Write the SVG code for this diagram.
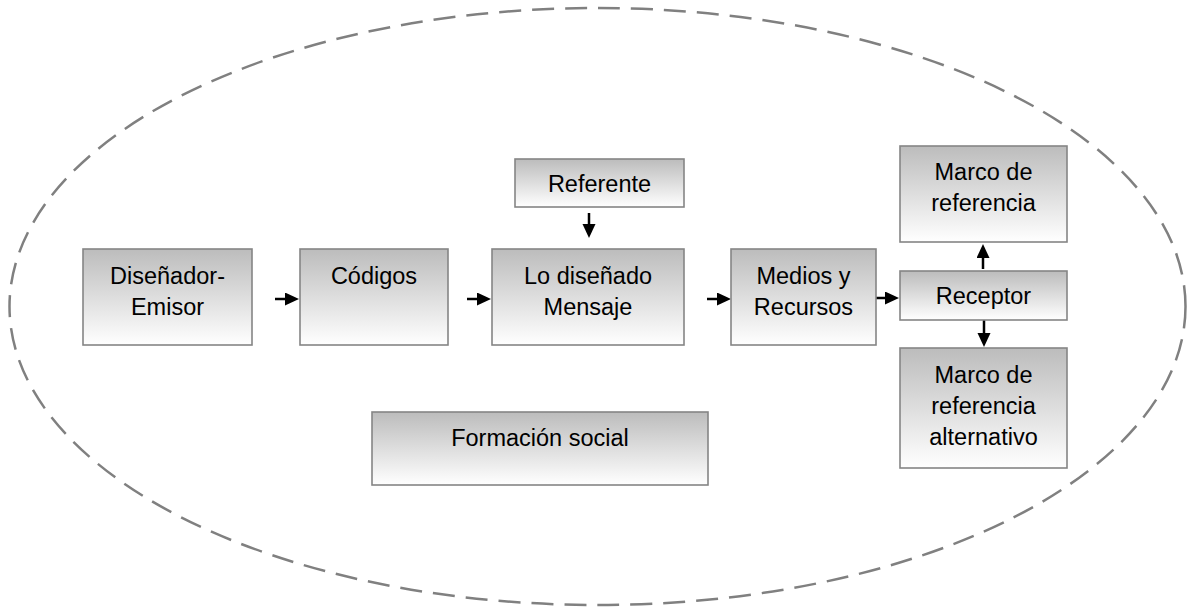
<svg xmlns="http://www.w3.org/2000/svg" width="1188" height="611" viewBox="0 0 1188 611">
<style>
.box{fill:url(#g);stroke:#858585;stroke-width:1.6}
.t{font-family:"Liberation Sans",Arial,sans-serif;font-size:23.5px;fill:#000;text-anchor:middle}
.c{stroke:#000;stroke-width:2.5;fill:none;marker-end:url(#ah)}
.ell{fill:none;stroke:#808080;stroke-width:2.5;stroke-dasharray:22 11}
</style>
<defs>
<linearGradient id="g" x1="0" y1="0" x2="0" y2="1">
<stop offset="0" stop-color="#bcbcbc"/>
<stop offset="1" stop-color="#ffffff"/>
</linearGradient>
<marker id="ah" markerUnits="userSpaceOnUse" markerWidth="15" markerHeight="14" refX="0" refY="6.5" orient="auto">
<path d="M0,0 L14,6.5 L0,13 z" fill="#000"/>
</marker>
</defs>
<ellipse class="ell" cx="597.5" cy="306.5" rx="588" ry="298.5"/>
<g id="connectors">
<path class="c" d="M275,299 H285"/>
<path class="c" d="M467,299 H477"/>
<path class="c" d="M707,299 H717"/>
<path class="c" d="M875,298 H885"/>
<path class="c" d="M589,213 V224"/>
<path class="c" d="M983,269 V258"/>
<path class="c" d="M984,320 V333"/>
</g>
<g id="n-emisor"><rect class="box" x="83" y="249" width="169" height="96"/><text class="t" x="167.5" y="284">Diseñador-</text><text class="t" x="167.5" y="315">Emisor</text></g>
<g id="n-codigos"><rect class="box" x="300" y="249" width="148" height="96"/><text class="t" x="374" y="284">Códigos</text></g>
<g id="n-mensaje"><rect class="box" x="492" y="249" width="192" height="96"/><text class="t" x="588" y="284">Lo diseñado</text><text class="t" x="588" y="315">Mensaje</text></g>
<g id="n-referente"><rect class="box" x="515" y="159" width="169" height="48"/><text class="t" x="599.5" y="192">Referente</text></g>
<g id="n-medios"><rect class="box" x="731" y="249" width="145" height="96"/><text class="t" x="803.5" y="284">Medios y</text><text class="t" x="803.5" y="315">Recursos</text></g>
<g id="n-receptor"><rect class="box" x="900" y="271" width="167" height="49"/><text class="t" x="983.5" y="304">Receptor</text></g>
<g id="n-marco"><rect class="box" x="900" y="146" width="167" height="96"/><text class="t" x="983.5" y="180">Marco de</text><text class="t" x="983.5" y="211">referencia</text></g>
<g id="n-marco-alt"><rect class="box" x="900" y="348" width="167" height="120"/><text class="t" x="983.5" y="383">Marco de</text><text class="t" x="983.5" y="414">referencia</text><text class="t" x="983.5" y="445">alternativo</text></g>
<g id="n-formacion"><rect class="box" x="372" y="412" width="336" height="73"/><text class="t" x="540" y="446">Formación social</text></g>
</svg>
